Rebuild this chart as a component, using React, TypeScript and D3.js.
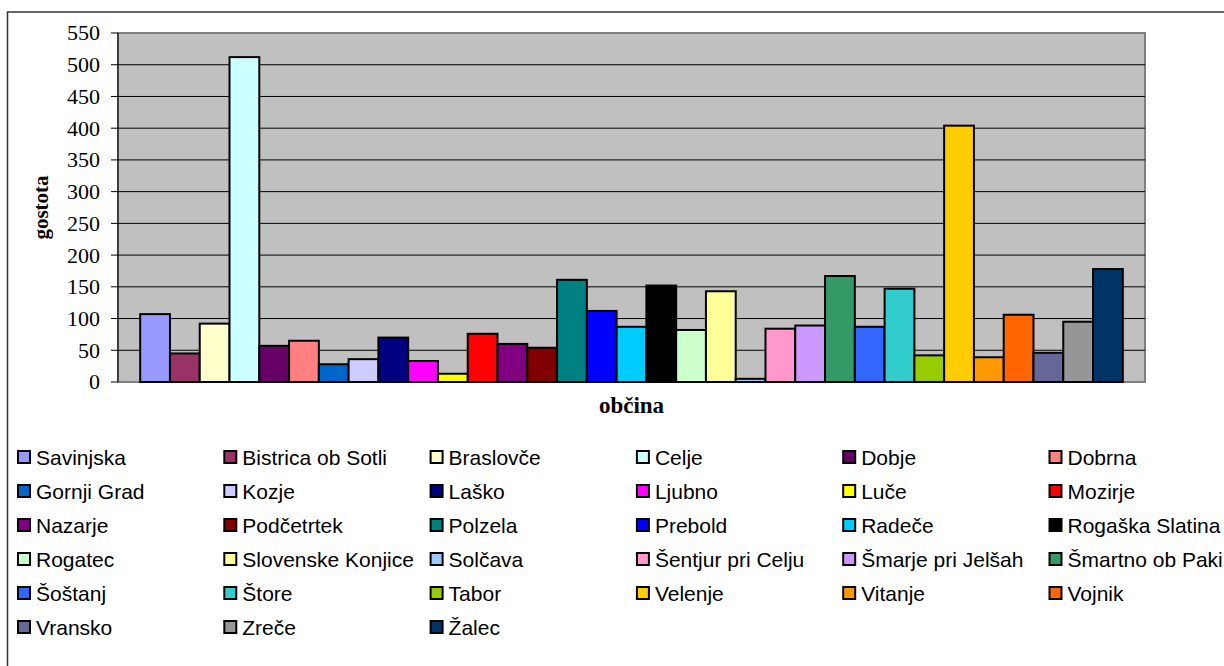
import React from "react";
import * as d3 from "d3";

const municipalities = [
  "Savinjska", "Bistrica ob Sotli", "Braslovče", "Celje", "Dobje", "Dobrna",
  "Gornji Grad", "Kozje", "Laško", "Ljubno", "Luče", "Mozirje",
  "Nazarje", "Podčetrtek", "Polzela", "Prebold", "Radeče", "Rogaška Slatina",
  "Rogatec", "Slovenske Konjice", "Solčava", "Šentjur pri Celju", "Šmarje pri Jelšah", "Šmartno ob Paki",
  "Šoštanj", "Štore", "Tabor", "Velenje", "Vitanje", "Vojnik",
  "Vransko", "Zreče", "Žalec",
];

const density = [
  107, 45, 92, 512, 57, 65,
  28, 36, 70, 33, 13, 76,
  60, 54, 161, 112, 87, 152,
  82, 143, 5, 84, 89, 167,
  87, 147, 42, 404, 39, 106,
  46, 95, 178,
];

const colors = [
  "#9999FF", "#993366", "#FFFFCC", "#CCFFFF", "#660066", "#FF8080",
  "#0066CC", "#CCCCFF", "#000080", "#FF00FF", "#FFFF00", "#FF0000",
  "#800080", "#800000", "#008080", "#0000FF", "#00CCFF", "#000000",
  "#CCFFCC", "#FFFF99", "#99CCFF", "#FF99CC", "#CC99FF", "#339966",
  "#3366FF", "#33CCCC", "#99CC00", "#FFCC00", "#FF9900", "#FF6600",
  "#666699", "#969696", "#003366",
];

const yTicks = [0, 50, 100, 150, 200, 250, 300, 350, 400, 450, 500, 550];

export default function App() {
  const W = 1224, H = 666;
  const plot = { left: 118, right: 1145, top: 33, bottom: 382 };
  const x = d3.scaleBand<string>().domain(municipalities).range([plot.left, plot.right]).paddingInner(0).paddingOuter(0.745);
  const y = d3.scaleLinear().domain([0, 550]).range([plot.bottom, plot.top]);

  const legendCols = 6;
  const legendX0 = 17;
  const legendStep = 206.3;
  const legendY0 = 457;
  const legendRowStep = 34;

  return (
    <svg width={W} height={H} style={{ position: "absolute", left: 0, top: 0, background: "#fff" }}>
      {/* outer frame */}
      <rect x={7.5} y={12} width={1400} height={800} fill="#fff" stroke="#333" strokeWidth={1.5} />

      {/* plot area */}
      <rect x={plot.left} y={plot.top} width={plot.right - plot.left} height={plot.bottom - plot.top} fill="#C0C0C0" stroke="#808080" strokeWidth={2} />

      {/* gridlines */}
      {yTicks.filter(t => t > 0 && t < 550).map(t => (
        <line key={"g" + t} x1={plot.left} x2={plot.right} y1={y(t)} y2={y(t)} stroke="#000" strokeWidth={1} />
      ))}

      {/* y axis */}
      <line x1={plot.left} x2={plot.left} y1={plot.top} y2={plot.bottom} stroke="#000" strokeWidth={1} />
      {yTicks.map(t => (
        <g key={"t" + t}>
          <line x1={plot.left - 7} x2={plot.left} y1={y(t)} y2={y(t)} stroke="#000" strokeWidth={1} />
          <text x={100} y={y(t)} dy="0.34em" textAnchor="end" fontFamily="'Liberation Serif', 'Times New Roman', serif" fontSize={22} fill="#000">{t}</text>
        </g>
      ))}

      {/* bars */}
      {municipalities.map((m, i) => (
        <rect key={m} x={x(m)!} y={y(density[i])} width={x.bandwidth()} height={y(0) - y(density[i])} fill={colors[i]} stroke="#000" strokeWidth={2} />
      ))}

      {/* axis titles */}
      <text transform={`translate(41,${(plot.top + plot.bottom) / 2}) rotate(-90)`} dy="0.35em" textAnchor="middle" fontFamily="'Liberation Serif', 'Times New Roman', serif" fontWeight="bold" fontSize={21} fill="#000">gostota</text>
      <text x={(plot.left + plot.right) / 2} y={413} textAnchor="middle" fontFamily="'Liberation Serif', 'Times New Roman', serif" fontWeight="bold" fontSize={23} fill="#000">občina</text>

      {/* legend */}
      {municipalities.map((m, i) => {
        const col = i % legendCols;
        const row = Math.floor(i / legendCols);
        const lx = legendX0 + col * legendStep;
        const ly = legendY0 + row * legendRowStep;
        return (
          <g key={"l" + m}>
            <rect x={lx + 1} y={ly - 6} width={12} height={12} fill={colors[i]} stroke="#000" strokeWidth={2} />
            <text x={lx + 19} y={ly} dy="0.36em" fontFamily="'Liberation Sans', Arial, sans-serif" fontSize={21} fill="#000">{m}</text>
          </g>
        );
      })}
    </svg>
  );
}
